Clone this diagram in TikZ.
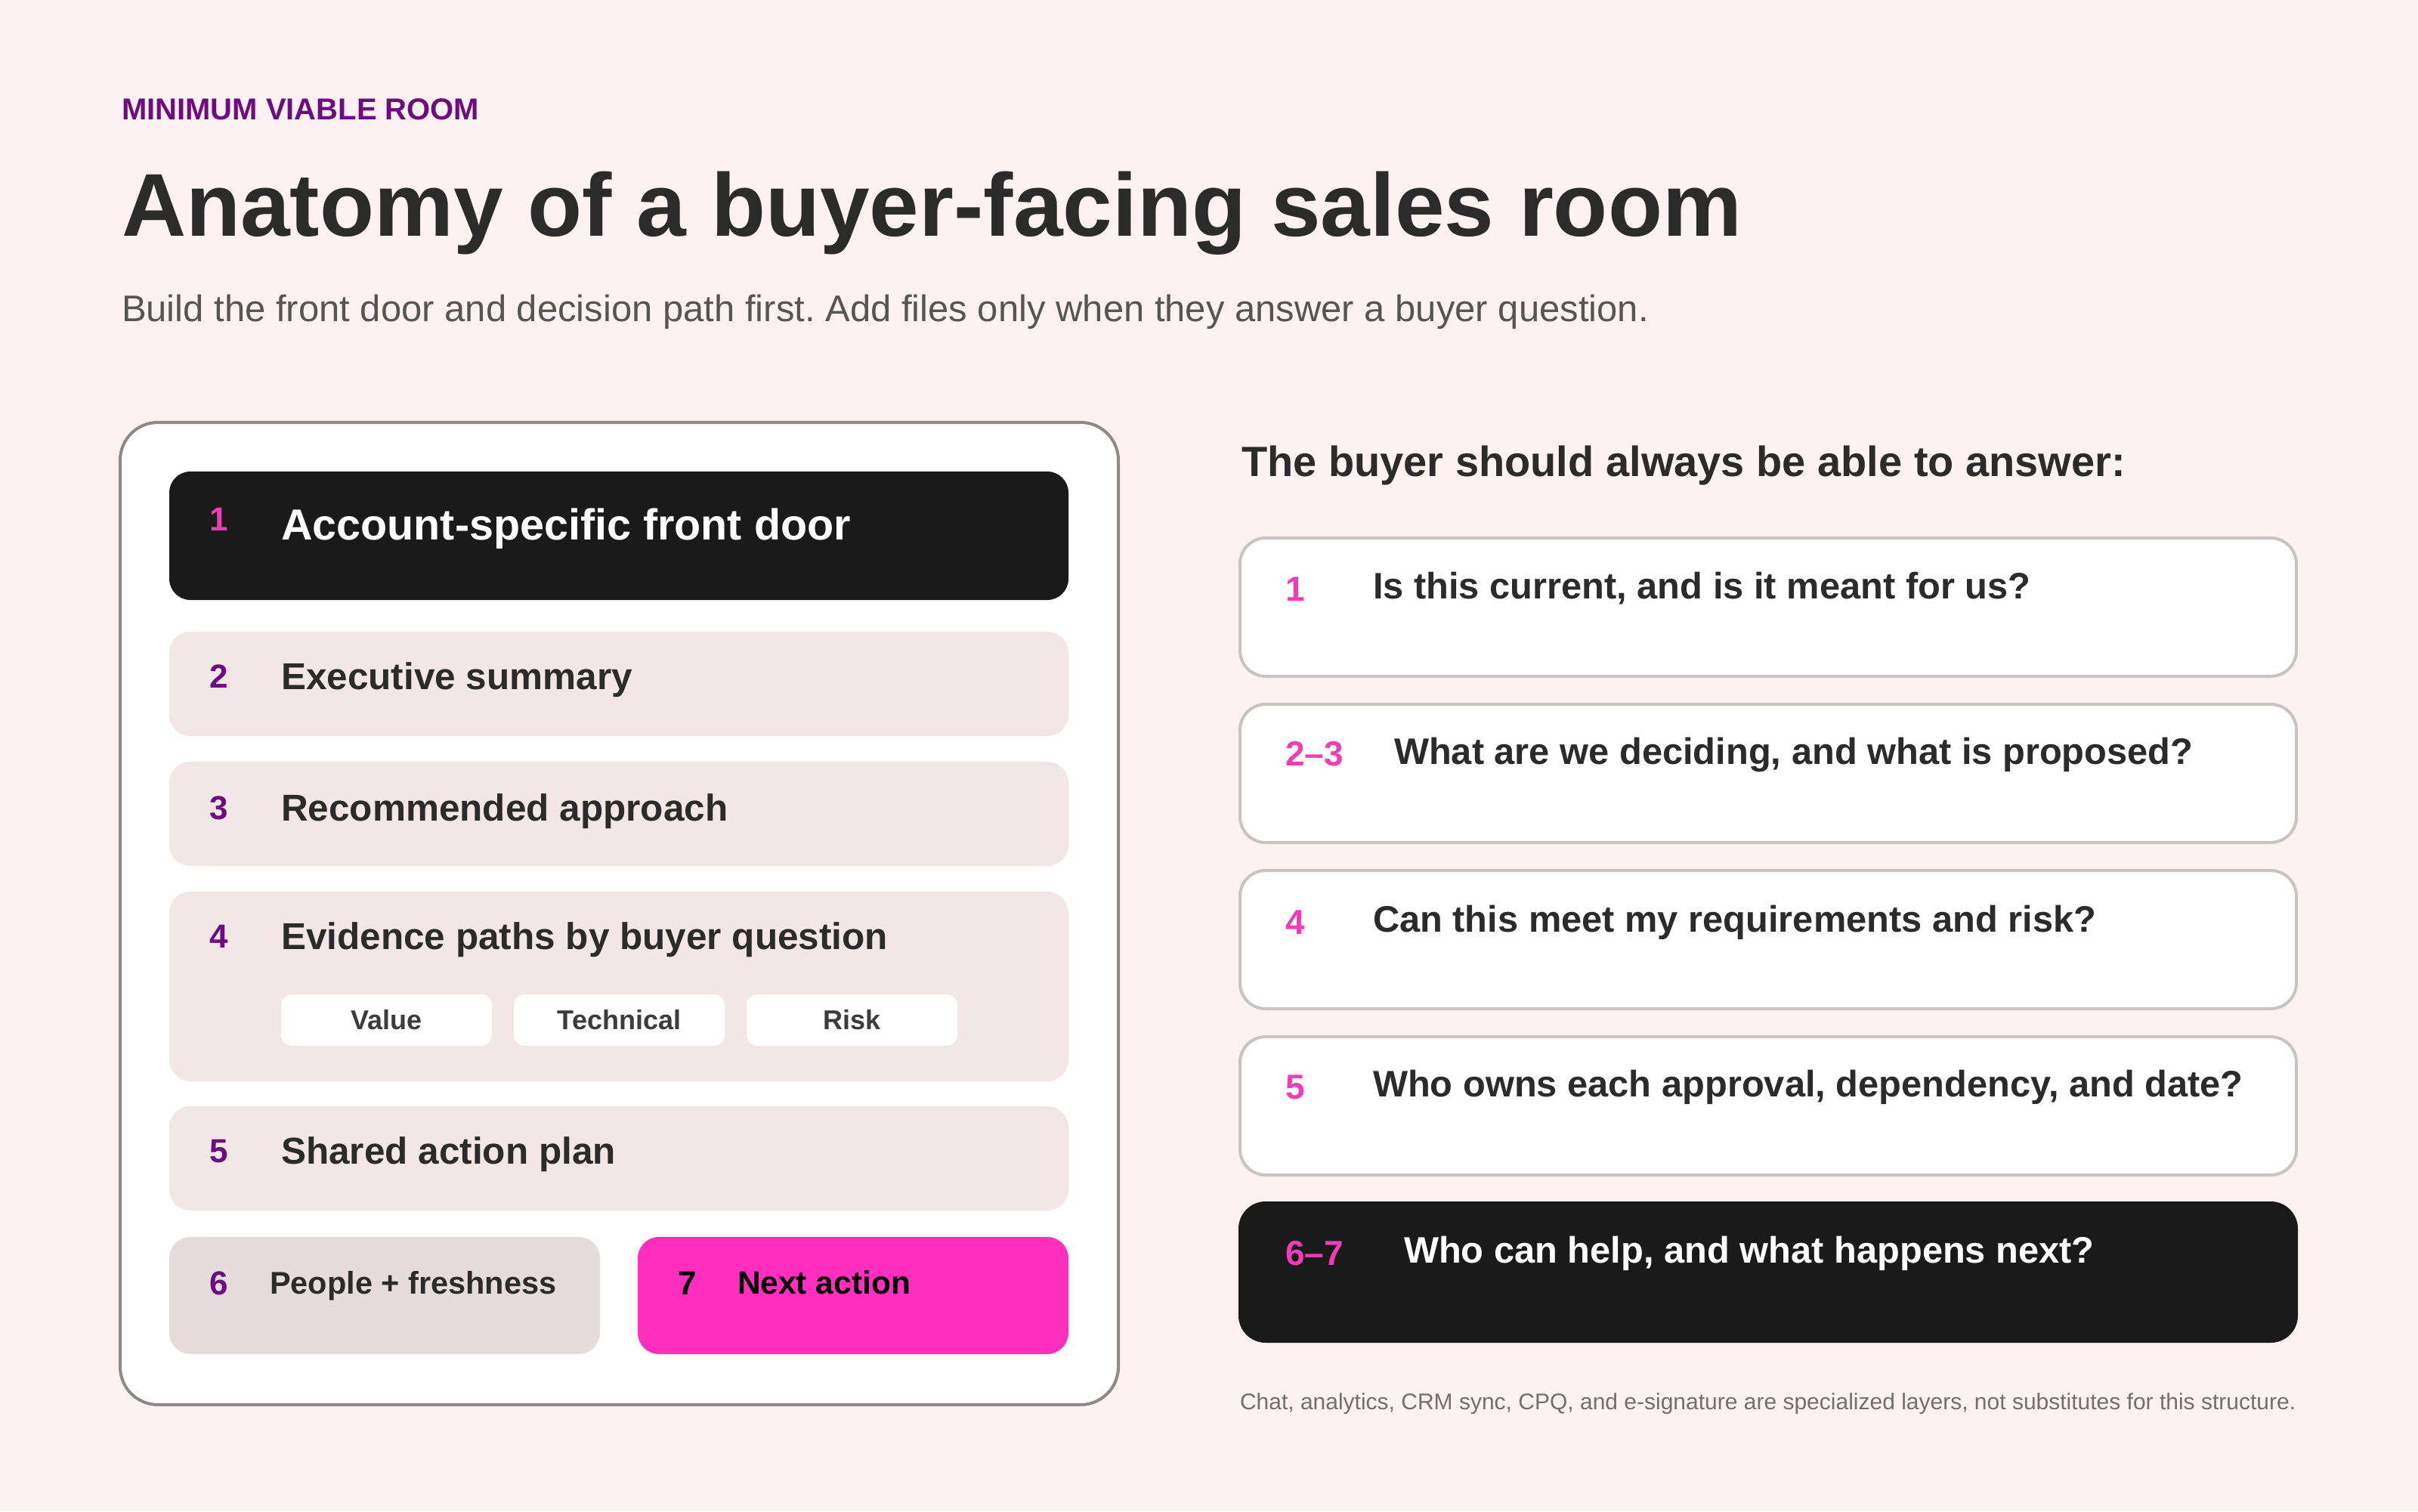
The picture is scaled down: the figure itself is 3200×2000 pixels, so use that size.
\documentclass[tikz,border=0pt]{standalone}
\usepackage{fontspec}
\setmainfont{Liberation Sans}
\definecolor{bg}{HTML}{FDF1F1}
\definecolor{purp}{HTML}{6D0C7E}
\definecolor{ink}{HTML}{2B2B2B}
\definecolor{subgray}{HTML}{555555}
\definecolor{rowfill}{HTML}{F2E6E6}
\definecolor{rowdark}{HTML}{E7DCDC}
\definecolor{hotpink}{HTML}{FF2FBE}
\definecolor{numpink}{HTML}{EE3DB6}
\definecolor{blk}{HTML}{1A1A1A}
\definecolor{panelline}{HTML}{8E8A8A}
\definecolor{cardline}{HTML}{C9C3C3}
\definecolor{footgray}{HTML}{707070}
\definecolor{chiptxt}{HTML}{3C3C3C}
\newcommand\fsz[1]{\fontsize{#1}{#1}\selectfont}
\frenchspacing
\begin{document}
\begin{tikzpicture}[x=1pt,y=-1pt,
  txt/.style={anchor=base west, inner sep=0pt, outer sep=0pt},
  box/.style={anchor=north west, inner sep=0pt, outer sep=0pt, rounded corners=28pt},
  rowbox/.style={box, fill=rowfill, minimum width=1190pt, minimum height=138pt},
  chip/.style={box, fill=white, rounded corners=14pt, minimum width=279pt, minimum height=68pt, font=\fsz{36}\bfseries, text=chiptxt},
  card/.style={box, fill=white, draw=cardline, line width=4pt, rounded corners=34pt, minimum width=1398pt, minimum height=183pt},
  rnum/.style={txt, font=\fsz{44}\bfseries, text=purp},
  rtext/.style={txt, font=\fsz{49.5}\bfseries, text=ink},
  qnum/.style={txt, font=\fsz{46}\bfseries, text=numpink},
  qtext/.style={txt, font=\fsz{48.8}\bfseries, text=ink}
]
\path[use as bounding box, fill=bg] (0,0) rectangle (3200,2000);

% header
\node[txt, font=\fsz{40}\bfseries, text=purp] (kicker) at (161,158) {MINIMUM VIABLE ROOM};
\node[txt, font=\fsz{118}\bfseries, text=ink] (title) at (161,312) {Anatomy of a buyer-facing sales room};
\node[txt, font=\fsz{49}, text=subgray] (subtitle) at (161,425) {Build the front door and decision path first. Add files only when they answer a buyer question.};

% left panel
\node[box, fill=white, draw=panelline, line width=4pt, rounded corners=50pt, minimum width=1321pt, minimum height=1300pt] (panel) at (159,559) {};

\node[box, fill=blk, minimum width=1190pt, minimum height=170pt] (r1) at (224,624) {};
\node[rnum, text=numpink] (n1) at (277,702) {1};
\node[txt, font=\fsz{57.5}\bfseries, text=white] (t1) at (372,714) {Account-specific front door};

\node[rowbox] (r2) at (224,836) {};
\node[rnum] (n2) at (277,910) {2};
\node[rtext] (t2) at (372,912) {Executive summary};

\node[rowbox] (r3) at (224,1008) {};
\node[rnum] (n3) at (277,1084) {3};
\node[rtext] (t3) at (372,1086) {Recommended approach};

\node[rowbox, minimum height=251pt] (r4) at (224,1180) {};
\node[rnum] (n4) at (277,1254) {4};
\node[rtext] (t4) at (372,1256) {Evidence paths by buyer question};
\node[chip] (c1) at (372,1316) {Value};
\node[chip] (c2) at (680,1316) {Technical};
\node[chip] (c3) at (988,1316) {Risk};

\node[rowbox] (r5) at (224,1464) {};
\node[rnum] (n5) at (277,1538) {5};
\node[rtext] (t5) at (372,1540) {Shared action plan};

\node[box, fill=rowdark, minimum width=570pt, minimum height=155pt] (r6) at (224,1637) {};
\node[rnum] (n6) at (277,1713) {6};
\node[txt, font=\fsz{41.5}\bfseries, text=ink] (t6) at (357,1712) {People + freshness};

\node[box, fill=hotpink, minimum width=570pt, minimum height=155pt] (r7) at (844,1637) {};
\node[rnum, text=black] (n7) at (897,1713) {7};
\node[txt, font=\fsz{42.5}\bfseries, text=black] (t7) at (976,1712) {Next action};

% right side
\node[txt, font=\fsz{56}\bfseries, text=ink] (qhead) at (1643,630) {The buyer should always be able to answer:};

\node[card] (q1) at (1641,712) {};
\node[qnum] (qn1) at (1701,795) {1};
\node[qtext] (qt1) at (1817,792) {Is this current, and is it meant for us?};

\node[card] (q2) at (1641,932) {};
\node[qnum] (qn2) at (1701,1013) {2–3};
\node[qtext] (qt2) at (1845,1011) {What are we deciding, and what is proposed?};

\node[card] (q3) at (1641,1152) {};
\node[qnum] (qn3) at (1701,1236) {4};
\node[qtext] (qt3) at (1817,1233) {Can this meet my requirements and risk?};

\node[card] (q4) at (1641,1372) {};
\node[qnum] (qn4) at (1701,1454) {5};
\node[qtext] (qt4) at (1817,1451) {Who owns each approval, dependency, and date?};

\node[card, fill=blk, draw=blk] (q5) at (1641,1592) {};
\node[qnum] (qn5) at (1701,1674) {6–7};
\node[qtext, text=white] (qt5) at (1858,1671) {Who can help, and what happens next?};

\node[txt, font=\fsz{30}, text=footgray] (foot) at (1641,1865) {Chat, analytics, CRM sync, CPQ, and e-signature are specialized layers, not substitutes for this structure.};
\end{tikzpicture}
\end{document}
